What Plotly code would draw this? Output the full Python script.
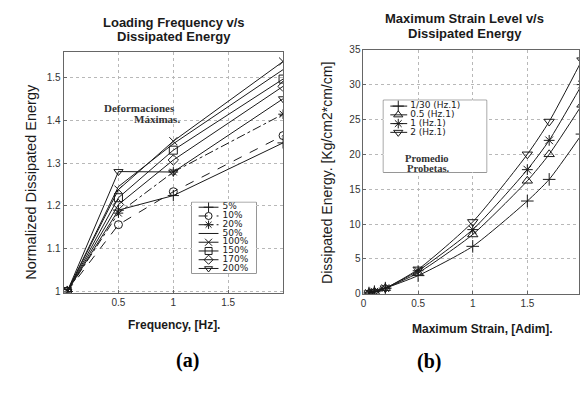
import plotly.graph_objects as go

# ---- (a) normalized dissipated energy vs loading frequency ----
freq = [1 / 30, 0.5, 1.0, 2.0]
levels = ["5%", "10%", "20%", "50%", "100%", "150%", "170%", "200%"]
e_5 = [1.0, 1.190, 1.224, 1.347]
e_10 = [1.0, 1.156, 1.233, 1.364]
e_20 = [1.0, 1.183, 1.279, 1.414]
e_50 = [1.0, 1.245, 1.345, 1.518]
e_100 = [1.0, 1.238, 1.351, 1.537]
e_150 = [1.0, 1.219, 1.330, 1.496]
e_170 = [1.0, 1.203, 1.307, 1.479]
e_200 = [1.0, 1.280, 1.279, 1.450]
energy_a = [e_5, e_10, e_20, e_50, e_100, e_150, e_170, e_200]
symbols_a = ["cross-thin-open", "circle-open", "asterisk-open", None,
             "x-thin-open", "square-open", "diamond-open", "triangle-down-open"]
dashes_a = ["solid", "dash", "dashdot", "solid", "solid", "solid", "solid", "solid"]

# ---- (b) dissipated energy vs maximum strain ----
strain = [0.05, 0.1, 0.2, 0.5, 1.0, 1.5, 1.7, 2.0]
rates = ["1/30 (Hz.1)", "0.5 (Hz.1)", "1 (Hz.1)", "2 (Hz.1)"]
d_1_30 = [0.1, 0.3, 0.8, 2.6, 6.8, 13.3, 16.4, 22.9]
d_0_5 = [0.1, 0.3, 0.8, 3.0, 8.5, 16.2, 20.0, 27.1]
d_1 = [0.1, 0.3, 0.8, 3.3, 9.2, 17.8, 22.0, 30.0]
d_2 = [0.1, 0.3, 0.8, 3.5, 10.3, 20.0, 24.7, 33.5]
energy_b = [d_1_30, d_0_5, d_1, d_2]
symbols_b = ["cross-thin-open", "triangle-up-open", "asterisk-open", "triangle-down-open"]

INK = "#1a1a1a"
GRID = "#b8b8b8"
FONT = "Liberation Sans, Arial, sans-serif"
WIDE = "DejaVu Sans, Verdana, sans-serif"
SERIF = "Liberation Serif, Times New Roman, serif"

fig = go.Figure()


def marker_style(sym, size=8):
    if sym is None:
        return dict(size=1, opacity=0)
    return dict(symbol=sym, size=size, color=INK, line=dict(color=INK, width=1))


# data traces, panel (a)
for name, ys, sym, dash in zip(levels, energy_a, symbols_a, dashes_a):
    fig.add_trace(go.Scatter(
        x=freq, y=ys, name=name, mode="lines+markers" if sym else "lines",
        line=dict(color=INK, width=1, dash=dash),
        marker=marker_style(sym), showlegend=False, xaxis="x", yaxis="y"))

# data traces, panel (b)
for name, ys, sym in zip(rates, energy_b, symbols_b):
    fig.add_trace(go.Scatter(
        x=strain, y=ys, name=name, mode="lines+markers",
        line=dict(color=INK, width=1, shape="spline", smoothing=0.6),
        marker=marker_style(sym, 9), showlegend=False, xaxis="x2", yaxis="y2"))


def legend_rows(names, syms, dashes, xaxis, yaxis, row0, step, x_line, x_text, msize, fsize):
    """Compact legend: sample line + marker + label per row on a small helper axis."""
    for i, (name, sym, dash) in enumerate(zip(names, syms, dashes)):
        yy = row0 + step * i
        fig.add_trace(go.Scatter(
            x=[x_line[0], x_line[2]], y=[yy, yy], mode="lines",
            line=dict(color=INK, width=1, dash=dash),
            showlegend=False, hoverinfo="skip", xaxis=xaxis, yaxis=yaxis))
        if sym:
            fig.add_trace(go.Scatter(
                x=[x_line[1]], y=[yy], mode="markers", marker=marker_style(sym, msize),
                showlegend=False, hoverinfo="skip", xaxis=xaxis, yaxis=yaxis))
        fig.add_trace(go.Scatter(
            x=[x_text], y=[yy], mode="text", text=[name], textposition="middle right",
            textfont=dict(family=WIDE, size=fsize, color=INK),
            showlegend=False, hoverinfo="skip", xaxis=xaxis, yaxis=yaxis))


legend_rows(levels, symbols_a, dashes_a, "x3", "y3", 5.0, 9.0, (7, 17, 27), 31, 7, 9)
legend_rows(rates, symbols_b, ["solid"] * 4, "x4", "y4", 6.0, 9.0, (7, 15, 24), 27, 8, 9)

fig.add_annotation(x=44, y=59.5, xref="x4", yref="y4", text="<b>Promedio</b>",
                   showarrow=False, font=dict(family=SERIF, size=10.5, color="#333"))
fig.add_annotation(x=45, y=70.5, xref="x4", yref="y4", text="<b>Probetas.</b>",
                   showarrow=False, font=dict(family=SERIF, size=10.5, color="#333"))

# white boxes behind the legends
for ax in ("x3", "x4"):
    yax = "y" + ax[1:]
    fig.add_shape(type="rect", xref=f"{ax} domain", yref=f"{yax} domain",
                  x0=0, x1=1, y0=0, y1=1, fillcolor="white",
                  line=dict(color="#444", width=1), layer="below")

axis_common = dict(showline=True, mirror=True, linecolor="#666", linewidth=1,
                   showgrid=True, gridcolor=GRID, griddash="dot", gridwidth=1,
                   zeroline=False, ticks="inside", ticklen=3, tickcolor="#666",
                   tickfont=dict(family=FONT, size=10, color="#333"))
hidden = dict(visible=True, showline=False, showgrid=False, zeroline=False,
              showticklabels=False, ticks="")

fig.update_layout(
    width=580, height=396, margin=dict(l=0, r=0, t=0, b=0),
    paper_bgcolor="white", plot_bgcolor="white", showlegend=False,
    xaxis=dict(axis_common, domain=[61 / 580, 282 / 580], range=[0, 2],
               tickvals=[0.5, 1, 1.5], ticktext=["0.5", "1", "1.5"], anchor="y"),
    yaxis=dict(axis_common, domain=[1 - 296 / 396, 1 - 48 / 396], range=[0.997, 1.56],
               tickvals=[1, 1.1, 1.2, 1.3, 1.4, 1.5],
               ticktext=["1", "1.1", "1.2", "1.3", "1.4", "1.5"], anchor="x"),
    xaxis2=dict(axis_common, domain=[363 / 580, 1.0], range=[0, 1.973],
                tickvals=[0, 0.5, 1, 1.5], ticktext=["0", "0.5", "1", "1.5"], anchor="y2"),
    yaxis2=dict(axis_common, domain=[1 - 297 / 396, 1 - 46 / 396], range=[0, 35],
                tickvals=[0, 5, 10, 15, 20, 25, 30, 35], anchor="x2"),
    xaxis3=dict(hidden, domain=[190 / 580, 255 / 580], range=[0, 65], anchor="y3"),
    yaxis3=dict(hidden, domain=[1 - 276 / 396, 1 - 203 / 396], range=[73, 0], anchor="x3"),
    xaxis4=dict(hidden, domain=[383 / 580, 487 / 580], range=[0, 104], anchor="y4"),
    yaxis4=dict(hidden, domain=[1 - 172 / 396, 1 - 98 / 396], range=[74, 0], anchor="x4"),
)

texts = [
    # titles
    dict(x=172 / 580, y=1 - 18 / 396, text="<b>Loading Frequency v/s</b>", size=13),
    dict(x=172 / 580, y=1 - 32 / 396, text="<b>Dissipated Energy</b>", size=13),
    dict(x=465 / 580, y=1 - 14 / 396, text="<b>Maximum Strain Level v/s</b>", size=13),
    dict(x=465 / 580, y=1 - 29 / 396, text="<b>Dissipated Energy</b>", size=13),
    # axis titles
    dict(x=172 / 580, y=1 - 329 / 396, text="<b>Frequency, [Hz].</b>", size=12),
    dict(x=483 / 580, y=1 - 333 / 396, text="<b>Maximum Strain, [Adim].</b>", size=12),
]
for t in texts:
    fig.add_annotation(x=t["x"], y=t["y"], xref="paper", yref="paper", text=t["text"],
                       showarrow=False, xanchor="center", yanchor="middle",
                       font=dict(family=FONT, size=t["size"], color=INK))

fig.add_annotation(x=18 / 580, y=1 - 182 / 396, xref="paper", yref="paper",
                   text="Normalized Dissipated Energy", textangle=-90, showarrow=False,
                   font=dict(family=FONT, size=14.5, color=INK))
fig.add_annotation(x=326 / 580, y=1 - 173 / 396, xref="paper", yref="paper",
                   text="Dissipated Energy. [Kg/cm2*cm/cm]", textangle=-90, showarrow=False,
                   font=dict(family=FONT, size=14, color=INK))

# in-plot notes
fig.add_annotation(x=100 / 580, y=1 - 98 / 396, xref="paper", yref="paper",
                   text="<b>Deformaciones</b>", showarrow=False, xanchor="left",
                   font=dict(family=SERIF, size=11, color="#333"))
fig.add_annotation(x=130 / 580, y=1 - 109 / 396, xref="paper", yref="paper",
                   text="<b>Máximas.</b>", showarrow=False, xanchor="left",
                   font=dict(family=SERIF, size=11, color="#333"))

# panel captions
fig.add_annotation(x=172 / 580, y=1 - 380 / 396, xref="paper", yref="paper",
                   text="<b>(a)</b>", showarrow=False,
                   font=dict(family=SERIF, size=20, color="black"))
fig.add_annotation(x=443 / 580, y=1 - 381 / 396, xref="paper", yref="paper",
                   text="<b>(b)</b>", showarrow=False,
                   font=dict(family=SERIF, size=20, color="black"))

fig.write_html("out.html")
